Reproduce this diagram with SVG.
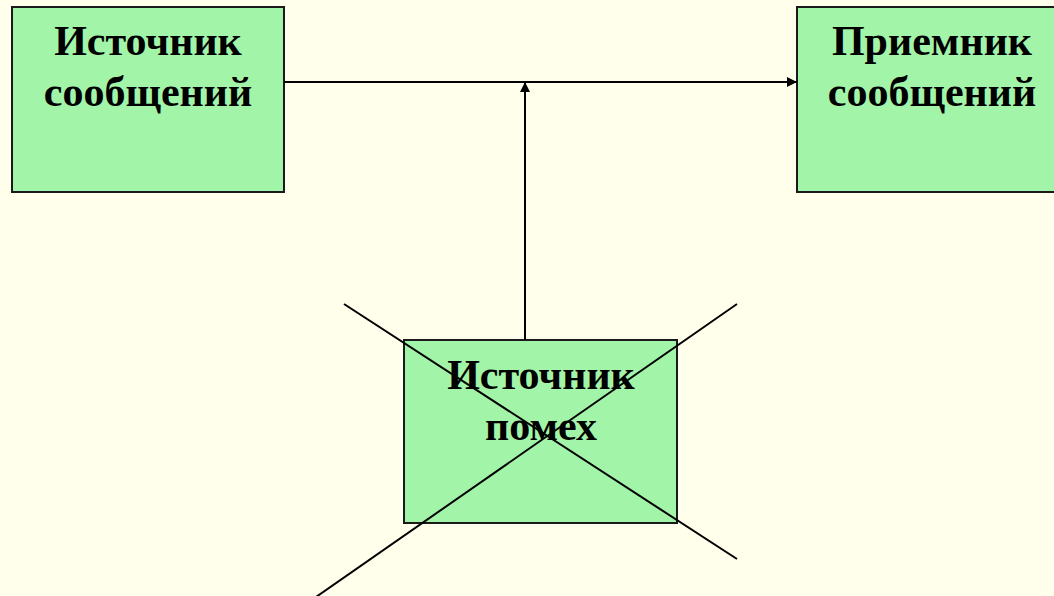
<svg xmlns="http://www.w3.org/2000/svg" width="1054" height="596" viewBox="0 0 1054 596">
<style>
.box{fill:#A2F5A8;stroke:#1a1a1a;stroke-width:2}
.lbl{font-family:"Liberation Serif","Times New Roman",serif;font-weight:bold;font-size:42px;fill:#000;text-anchor:middle}
.ln{stroke:#000;stroke-width:2;fill:none}
</style>
<defs>
<marker id="ah" viewBox="0 0 10 10" refX="10" refY="5" markerWidth="14" markerHeight="10" markerUnits="userSpaceOnUse" orient="auto">
<path d="M0,0 L10,5 L0,10 z" fill="#000"/>
</marker>
</defs>
<rect width="1054" height="596" fill="#FFFFEB"/>
<g id="source">
<rect class="box" x="12" y="7" width="272" height="185"/>
<text class="lbl" x="148" y="55">Источник</text>
<text class="lbl" x="148" y="106">сообщений</text>
</g>
<g id="receiver">
<rect class="box" x="797" y="7" width="270" height="185"/>
<text class="lbl" x="932" y="55">Приемник</text>
<text class="lbl" x="932" y="106">сообщений</text>
</g>
<g id="noise">
<rect class="box" x="404" y="340" width="273" height="183"/>
<text class="lbl" x="541" y="389">Источник</text>
<text class="lbl" x="541" y="440">помех</text>
<line class="ln" x1="344" y1="304" x2="737" y2="559"/>
<line class="ln" x1="737" y1="304" x2="316" y2="597"/>
</g>
<g id="connectors">
<line class="ln" x1="284" y1="82" x2="797" y2="82" marker-end="url(#ah)"/>
<line class="ln" x1="525" y1="340" x2="525" y2="82" marker-end="url(#ah)"/>
</g>
</svg>
